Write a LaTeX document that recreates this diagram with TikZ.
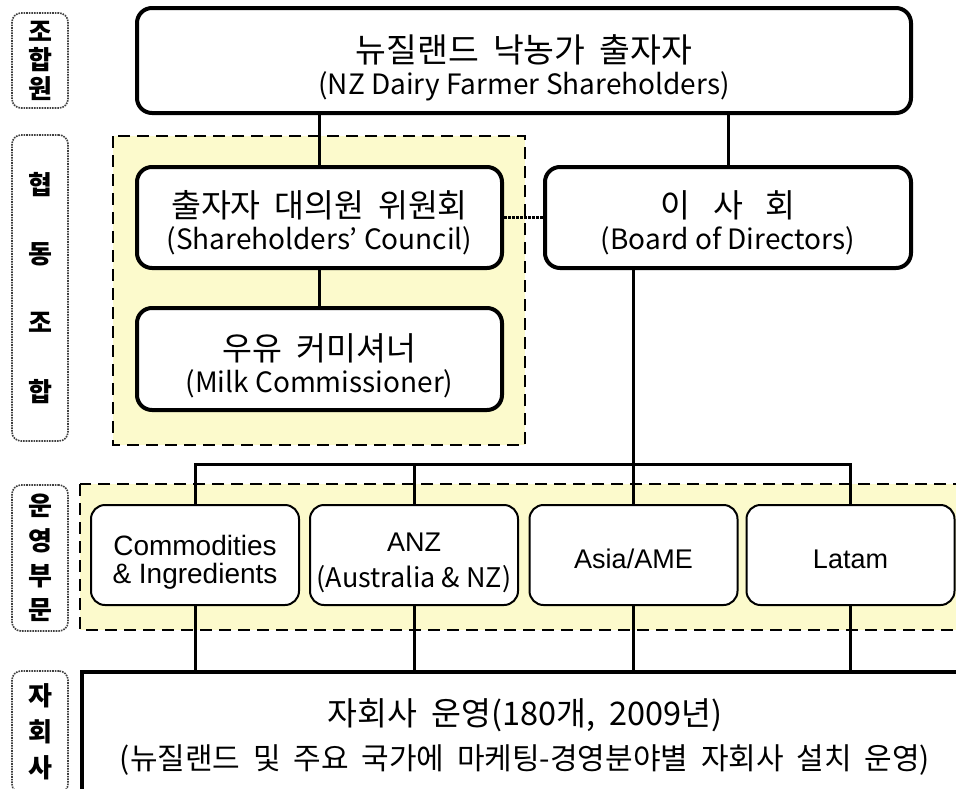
\documentclass[tikz,border=0pt]{standalone}
\usepackage{fontspec}
\setmainfont{Noto Sans CJK KR}
\newfontfamily\kor{Noto Sans CJK KR}[WordSpace=1.9]
\newfontfamily\arialf{Liberation Sans}
\usetikzlibrary{positioning}
\definecolor{paleyellow}{RGB}{252,250,204}
\tikzset{
    mainbox/.style={draw, line width=4pt, rounded corners=15pt, fill=white, inner sep=0pt,
        align=center, text height=68pt, text depth=3pt, font=\fontsize{28}{32}\selectfont},
    unitbox/.style={draw, line width=2pt, rounded corners=14pt, fill=white, inner sep=0pt,
        align=center, minimum width=208pt, minimum height=100pt, text height=26pt, text depth=0pt},
    sidebox/.style={draw=black!75, line width=1.6pt, densely dotted, rounded corners=9pt,
        fill=white, minimum width=56pt, inner sep=0pt, align=center},
    zone/.style={fill=paleyellow, draw, line width=2pt, dash pattern=on 12pt off 7pt},
    wire/.style={line width=3pt},
    liaison/.style={line width=3pt, densely dotted},
}

\begin{document}
\begin{tikzpicture}[x=1pt,y=-1pt]
    \useasboundingbox (0,0) rectangle (956,788);
    \fill[white] (0,0) rectangle (956,788);
    \clip (0,0) rectangle (956,788);

    % shaded groups
    \draw[zone] (113,136) rectangle (525,445);
    \draw[zone] (80,484) rectangle (975,630);

    % side labels
    \node[sidebox, minimum height=95pt, font=\bfseries\fontsize{26}{28.5}\selectfont] (lblA) at (40,60.5) {조\\합\\원};
    \node[sidebox, minimum height=306pt, font=\bfseries\fontsize{26}{69}\selectfont] (lblB) at (40,288) {협\\동\\조\\합};
    \node[sidebox, minimum height=146pt, font=\bfseries\fontsize{26}{34.7}\selectfont] (lblC) at (40,558) {운\\영\\부\\문};
    \node[sidebox, minimum height=122pt, font=\bfseries\fontsize{26}{36}\selectfont] (lblD) at (40,732) {자\\회\\사};

    % governance
    \node[mainbox, minimum width=774pt, minimum height=105pt, text height=70pt] (top) at (524,60.5)
        {{\kor\fontsize{33.5}{32}\selectfont 뉴질랜드 낙농가 출자자}\\(NZ Dairy Farmer Shareholders)};
    \node[mainbox, minimum width=365pt, minimum height=101pt, text height=66pt] (council) at (319.5,217.5)
        {{\kor\fontsize{32.5}{32}\selectfont 출자자 대의원 위원회}\\(Shareholders’ Council)};
    \node[mainbox, minimum width=366pt, minimum height=101pt, text height=66pt] (board) at (728,217.5)
        {{\kor\fontsize{32.5}{32}\selectfont 이\hspace{.7em}사\hspace{.7em}회}\\(Board of Directors)};
    \node[mainbox, minimum width=365pt, minimum height=102pt, text height=69pt] (milk) at (319.5,359)
        {{\kor\fontsize{32.5}{32}\selectfont 우유 커미셔너}\\(Milk Commissioner)};

    % operating units
    \node[unitbox, text height=62pt, text depth=6pt, font=\arialf\fontsize{28}{28}\selectfont] (cni) at (195,555)
        {Commodities\\\& Ingredients};
    \node[unitbox, text height=68pt, text depth=4pt, font=\arialf\fontsize{27}{36}\selectfont] (anz) at (414,555)
        {ANZ\\{\normalfont\fontsize{27}{36}\selectfont (Australia \& NZ)}};
    \node[unitbox, font=\arialf\fontsize{27}{28}\selectfont] (asia) at (633.5,555) {Asia/AME};
    \node[unitbox, font=\arialf\fontsize{27}{28}\selectfont] (latam) at (850.5,555) {Latam};

    % subsidiaries
    \node[draw, line width=4pt, fill=white, inner sep=0pt, align=center,
        minimum width=886pt, minimum height=130pt, anchor=north west,
        font=\kor\fontsize{32.5}{44}\selectfont] (sub) at (80,670)
        {자회사 운영(180개, 2009년)\\{\fontsize{30}{44}\selectfont (뉴질랜드 및 주요 국가에 마케팅-경영분야별 자회사 설치 운영)}};

    % connectors
    \draw[wire] (top.south -| council.north) -- (council.north);
    \draw[wire] (top.south -| board.north) -- (board.north);
    \draw[wire] (council.south) -- (milk.north);
    \draw[liaison] (council.east) -- (board.west);
    \draw[wire] (board.south -| asia.north) -- (asia.north);
    \coordinate (bus) at (0,464);
    \draw[wire] (cni.north) -- (cni.north |- bus) -- (latam.north |- bus) -- (latam.north);
    \draw[wire] (anz.north |- bus) -- (anz.north);
    \foreach \u in {cni,anz,asia,latam} {
        \draw[wire] (\u.south) -- (\u.south |- sub.north);
      }
  \end{tikzpicture}
\end{document}
